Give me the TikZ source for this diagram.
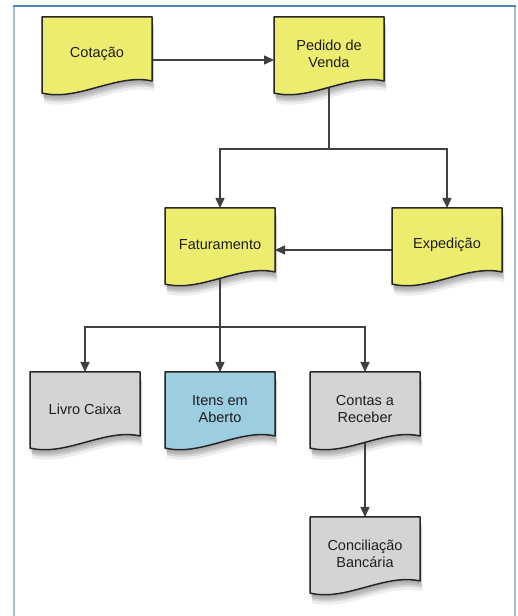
\documentclass[tikz,border=0pt]{standalone}
\usepackage{fontspec}
\setmainfont{Liberation Sans}
\usetikzlibrary{arrows.meta,calc}
\definecolor{docyellow}{HTML}{ECEC6E}
\definecolor{docgray}{HTML}{D6D4D3}
\definecolor{docblue}{HTML}{9DCDE0}
\definecolor{docline}{HTML}{262626}
\definecolor{connline}{HTML}{404040}
\definecolor{frametop}{HTML}{4F81BD}
\definecolor{frameside}{HTML}{A7BBD6}
\definecolor{txt}{HTML}{1E1E1E}
\pgfdeclarelayer{bglayer}
\pgfdeclarelayer{shadowlayer}
\pgfdeclarelayer{connlayer}
\pgfsetlayers{bglayer,shadowlayer,connlayer,main}
\newcommand\docpath[3]{\path[#1] (#2-55,#3) -- (#2+55,#3) -- (#2+55,#3-64) .. controls (#2+20,#3-56) and (#2-20,#3-85) .. (#2-55,#3-76) -- cycle;}
% name, cx, top, fill, text
\newcommand\docnode[5]{%
  \begin{pgfonlayer}{shadowlayer}
    \docpath{fill=black,opacity=0.08,shift={(-1,-3)}}{#2}{#3}
    \docpath{fill=black,opacity=0.10,shift={(1,-5)}}{#2}{#3}
    \docpath{fill=black,opacity=0.10,shift={(2,-7)}}{#2}{#3}
    \docpath{fill=black,opacity=0.07,shift={(2,-10)}}{#2}{#3}
  \end{pgfonlayer}
  \docpath{docshape,fill=#4}{#2}{#3}
  \node[doctext] (#1) at (#2,#3-37) {#5};
}
\tikzset{
  docshape/.style={draw=docline,line width=1.5pt,line join=round},
  doctext/.style={minimum width=110pt,minimum height=74pt,inner sep=0pt,outer sep=0pt,
    align=center,text=txt,font=\fontsize{14.5}{17}\selectfont},
  conn/.style={draw=connline,line width=1.5pt},
  arr/.style={conn,-{Triangle[length=10pt,width=9pt]}},
}
\begin{document}
\begin{tikzpicture}[x=1pt,y=1pt]
\useasboundingbox (0,0) rectangle (518,616);
\begin{pgfonlayer}{bglayer}
\fill[white] (0,0) rectangle (518,616);
\end{pgfonlayer}
% frame
\draw[frameside,line width=2pt] (14,0) -- (14,610);
\draw[frameside,line width=2pt] (514.5,0) -- (514.5,610);
\draw[frametop,line width=1.6pt] (13,610) -- (515.5,610);
% documents
\docnode{cot}{97}{599}{docyellow}{\raisebox{-7pt}{Cotação}}
\docnode{ped}{329}{599}{docyellow}{Pedido de\\Venda}
\docnode{fat}{220}{408}{docyellow}{Faturamento}
\docnode{exp}{447}{408}{docyellow}{Expedição}
\docnode{livro}{85}{244}{docgray}{Livro Caixa}
\docnode{itens}{220}{244}{docblue}{Itens em\\Aberto}
\docnode{contas}{365}{244}{docgray}{Contas a\\Receber}
\docnode{conc}{365}{99}{docgray}{Conciliação\\Bancária}
% connectors
\coordinate (s1) at (329,467);
\coordinate (s2) at (220,289);
\begin{pgfonlayer}{connlayer}
\draw[arr] ($(cot.north east)+(0,-43)$) -- ($(ped.north west)+(0,-43)$);
\draw[conn] (ped.center) -- (s1);
\draw[arr] (s1) -| (fat.north);
\draw[arr] (s1) -| (exp.north);
\draw[arr] ($(exp.north west)+(0,-42)$) -- ($(fat.north east)+(0,-42)$);
\draw[arr] (fat.center) -- (itens.north);
\draw[arr] (s2) -| (livro.north);
\draw[arr] (s2) -| (contas.north);
\draw[arr] (contas.center) -- (conc.north);
\end{pgfonlayer}
\end{tikzpicture}
\end{document}
